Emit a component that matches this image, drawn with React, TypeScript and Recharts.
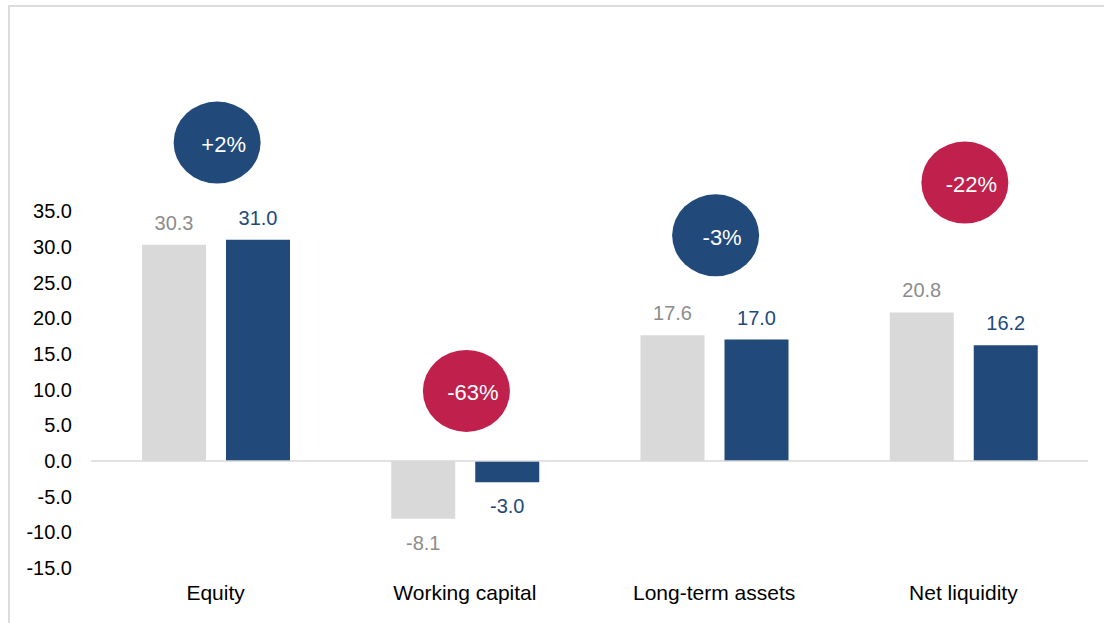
import React from 'react';
import {
  ComposedChart,
  Bar,
  Scatter,
  XAxis,
  YAxis,
  ReferenceLine,
  LabelList,
} from 'recharts';

const categories = ['Equity', 'Working capital', 'Long-term assets', 'Net liquidity'];
const previousValues = [30.3, -8.1, 17.6, 20.8];
const currentValues = [31.0, -3.0, 17.0, 16.2];
const changeLabels = ['+2%', '-63%', '-3%', '-22%'];
const bubbleY = [44.6, 9.8, 31.6, 39.0];
const yTicks = [-15, -10, -5, 0, 5, 10, 15, 20, 25, 30, 35];

const data = categories.map((name, i) => ({
  name,
  prev: previousValues[i],
  curr: currentValues[i],
  change: changeLabels[i],
  bubble: bubbleY[i],
}));

const FONT = '"Liberation Sans", Arial, Helvetica, sans-serif';
const GRAY_BAR = '#d9d9d9';
const BLUE = '#214a7b';
const RED = '#c0204c';
const GRAY_LABEL = '#8c8c8c';

const makeLabel = (color: string) => (props: any) => {
  const vb = props.viewBox && props.viewBox.width !== undefined ? props.viewBox : props;
  const x = Number(vb.x);
  const y = Number(vb.y);
  const w = Number(vb.width);
  const h = Number(vb.height);
  const value = Number(props.value);
  const top = Math.min(y, y + h);
  const bottom = Math.max(y, y + h);
  const ty = value >= 0 ? top - 15 : bottom + 31;
  return (
    <text
      x={x + w / 2}
      y={ty}
      textAnchor="middle"
      fill={color}
      fontSize={20}
      fontFamily={FONT}
    >
      {value.toFixed(1)}
    </text>
  );
};

const Bubble = (props: any) => {
  const { cx, cy, payload } = props;
  const pct = Math.abs(parseFloat(String(payload.change)));
  const fill = pct >= 10 ? RED : BLUE;
  return (
    <g>
      <ellipse cx={cx + 1.5} cy={cy} rx={43.5} ry={41} fill={fill} />
      <text
        x={cx + 8}
        y={cy + 9.5}
        textAnchor="middle"
        fill="#ffffff"
        fontSize={22}
        fontFamily={FONT}
      >
        {payload.change}
      </text>
    </g>
  );
};

export default function App() {
  return (
    <div
      style={{
        position: 'absolute',
        left: 0,
        top: 0,
        width: 1104,
        height: 623,
        overflow: 'hidden',
        background: '#ffffff',
      }}
    >
      <div
        style={{
          position: 'absolute',
          left: 8,
          top: 5,
          width: 1200,
          height: 700,
          borderTop: '2px solid #dcdcdc',
          borderLeft: '2px solid #dcdcdc',
        }}
      />
      <div style={{ position: 'absolute', left: 0, top: 0 }}>
        <ComposedChart
          width={1104}
          height={623}
          data={data}
          margin={{ top: 104, right: 16, bottom: 0, left: 0 }}
          barSize={64}
          barGap={20}
        >
          <XAxis
            dataKey="name"
            axisLine={false}
            tickLine={false}
            tickSize={0}
            tickMargin={17}
            height={55}
            interval={0}
            tick={{ fill: '#000000', fontSize: 21, fontFamily: FONT }}
          />
          <YAxis
            type="number"
            domain={[-15, 50]}
            ticks={yTicks}
            interval={0}
            axisLine={false}
            tickLine={false}
            tickSize={0}
            tickMargin={19}
            width={91}
            tickFormatter={(v: number) => v.toFixed(1)}
            tick={{ fill: '#000000', fontSize: 20, fontFamily: FONT }}
          />
          <ReferenceLine y={0} stroke="#d9d9d9" strokeWidth={1.5} />
          <Bar dataKey="prev" fill={GRAY_BAR} isAnimationActive={false}>
            <LabelList dataKey="prev" content={makeLabel(GRAY_LABEL)} />
          </Bar>
          <Bar dataKey="curr" fill={BLUE} isAnimationActive={false}>
            <LabelList dataKey="curr" content={makeLabel(BLUE)} />
          </Bar>
          <Scatter dataKey="bubble" isAnimationActive={false} shape={Bubble} />
        </ComposedChart>
      </div>
    </div>
  );
}
